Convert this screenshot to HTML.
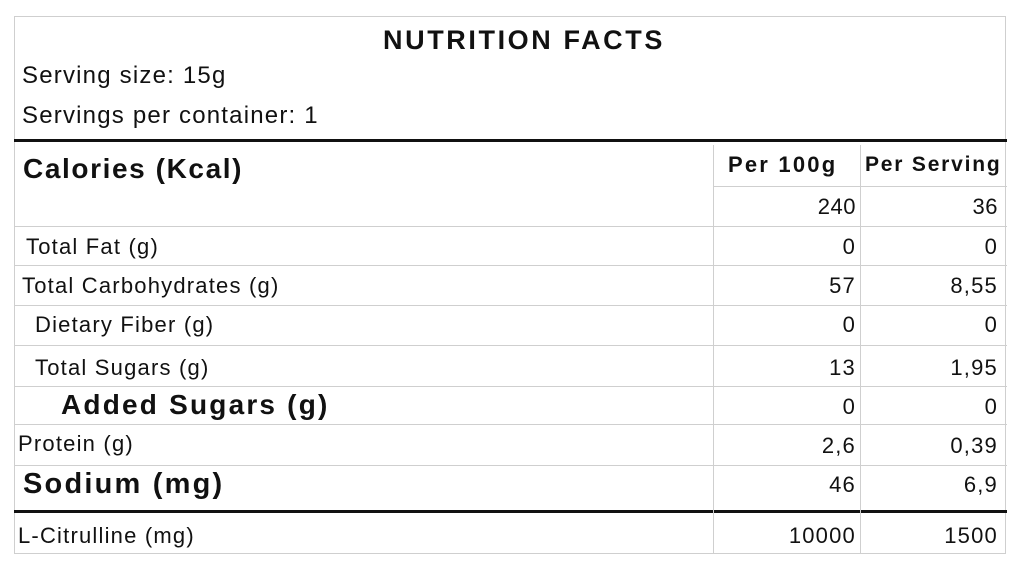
<!DOCTYPE html>
<html><head><meta charset="utf-8"><style>
html,body{margin:0;padding:0;background:#fff;}
body{width:1024px;height:573px;position:relative;overflow:hidden;font-family:"Liberation Sans",sans-serif;color:#111;}
.t{position:absolute;line-height:1;white-space:nowrap;letter-spacing:1.2px;}
.r{text-align:right;}
.h{position:absolute;background:#cfcfcf;height:1px;}
.v{position:absolute;background:#cfcfcf;width:1px;}
.k{position:absolute;background:#111;height:3px;}
</style></head><body>
<div style="position:absolute;left:14px;top:16px;width:992px;height:538px;border:1px solid #cfcfcf;box-sizing:border-box;"></div>
<div class="k" style="left:14px;top:139px;width:993px;"></div>
<div class="k" style="left:14px;top:510px;width:993px;"></div>
<div class="h" style="left:713px;top:186px;width:294px;"></div>
<div class="h" style="left:14px;top:226px;width:993px;"></div>
<div class="h" style="left:14px;top:265px;width:993px;"></div>
<div class="h" style="left:14px;top:305px;width:993px;"></div>
<div class="h" style="left:14px;top:345px;width:993px;"></div>
<div class="h" style="left:14px;top:386px;width:993px;"></div>
<div class="h" style="left:14px;top:424px;width:993px;"></div>
<div class="h" style="left:14px;top:465px;width:993px;"></div>
<div class="v" style="left:713px;top:145px;height:409px;"></div>
<div class="v" style="left:860px;top:145px;height:409px;"></div>

<div class="t" style="left:0;width:1048px;text-align:center;top:27px;font-size:27px;font-weight:bold;letter-spacing:2.6px;">NUTRITION FACTS</div>
<div class="t" style="left:22px;top:64px;font-size:24px;">Serving size: 15g</div>
<div class="t" style="left:22px;top:104px;font-size:24px;">Servings per container: 1</div>
<div class="t" style="left:23px;top:155px;font-size:28px;font-weight:bold;letter-spacing:1.6px;">Calories (Kcal)</div>
<div class="t" style="left:728px;top:154px;font-size:22px;font-weight:bold;letter-spacing:2.2px;">Per 100g</div>
<div class="t" style="left:865px;top:154px;font-size:21px;font-weight:bold;letter-spacing:1.8px;">Per Serving</div>

<div class="t" style="left:26px;top:236px;font-size:22px;">Total Fat (g)</div>
<div class="t" style="left:22px;top:275px;font-size:22px;">Total Carbohydrates (g)</div>
<div class="t" style="left:35px;top:314px;font-size:22px;">Dietary Fiber (g)</div>
<div class="t" style="left:35px;top:357px;font-size:22px;">Total Sugars (g)</div>
<div class="t" style="left:61px;top:391px;font-size:28px;font-weight:bold;letter-spacing:2.2px;">Added Sugars (g)</div>
<div class="t" style="left:18px;top:433px;font-size:22px;">Protein (g)</div>
<div class="t" style="left:23px;top:470px;font-size:29px;font-weight:bold;letter-spacing:2.2px;">Sodium (mg)</div>
<div class="t" style="left:18px;top:525px;font-size:22px;">L-Citrulline (mg)</div>

<div class="t r" style="left:700px;width:156px;top:196px;font-size:22px;letter-spacing:0.5px;">240</div>
<div class="t r" style="left:860px;width:138px;top:196px;font-size:22px;letter-spacing:0.5px;">36</div>
<div class="t r" style="left:700px;width:156px;top:236px;font-size:22px;">0</div>
<div class="t r" style="left:860px;width:138px;top:236px;font-size:22px;">0</div>
<div class="t r" style="left:700px;width:156px;top:275px;font-size:22px;">57</div>
<div class="t r" style="left:860px;width:138px;top:275px;font-size:22px;">8,55</div>
<div class="t r" style="left:700px;width:156px;top:314px;font-size:22px;">0</div>
<div class="t r" style="left:860px;width:138px;top:314px;font-size:22px;">0</div>
<div class="t r" style="left:700px;width:156px;top:357px;font-size:22px;">13</div>
<div class="t r" style="left:860px;width:138px;top:357px;font-size:22px;">1,95</div>
<div class="t r" style="left:700px;width:156px;top:396px;font-size:22px;">0</div>
<div class="t r" style="left:860px;width:138px;top:396px;font-size:22px;">0</div>
<div class="t r" style="left:700px;width:156px;top:435px;font-size:22px;">2,6</div>
<div class="t r" style="left:860px;width:138px;top:435px;font-size:22px;">0,39</div>
<div class="t r" style="left:700px;width:156px;top:474px;font-size:22px;">46</div>
<div class="t r" style="left:860px;width:138px;top:474px;font-size:22px;">6,9</div>
<div class="t r" style="left:700px;width:156px;top:525px;font-size:22px;">10000</div>
<div class="t r" style="left:860px;width:138px;top:525px;font-size:22px;">1500</div>
</body></html>
